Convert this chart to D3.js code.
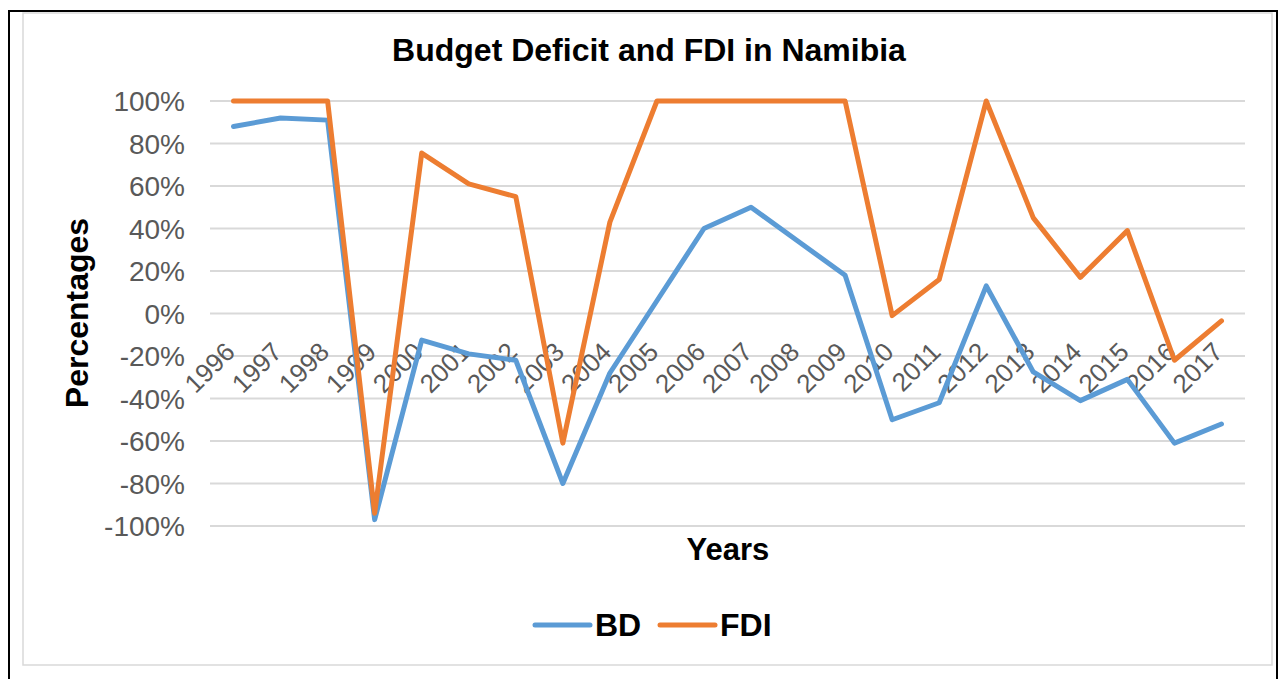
<!DOCTYPE html>
<html>
<head>
<meta charset="utf-8">
<script src="https://cdn.jsdelivr.net/npm/d3@7/dist/d3.min.js"></script>
<style>
  html, body { margin: 0; padding: 0; background: #fff; }
  svg { display: block; font-family: 'Liberation Sans', Arial, sans-serif; }
</style>
</head>
<body>
<div id="chart"></div>
<script>
// data
const years = ['1996', '1997', '1998', '1999', '2000', '2001', '2002', '2003', '2004', '2005', '2006',
  '2007', '2008', '2009', '2010', '2011', '2012', '2013', '2014', '2015', '2016', '2017']
const bd = [88, 92, 91, -97, -12.5, -19, -22, -80, -28, 6, 40,
  50, 34, 18, -50, -42, 13, -27.5, -41, -31, -61, -52]
const fdi = [100, 100, 100, -94, 75.5, 61, 55, -61, 43, 100, 100,
  100, 100, 100, -1, 16, 100, 45, 17, 39, -22, -3.5]
const yTicks = [100, 80, 60, 40, 20, 0, -20, -40, -60, -80, -100]

const seriesList = [
  {name: 'BD', values: bd, color: '#5B9BD5'},
  {name: 'FDI', values: fdi, color: '#ED7D31'}
]

const width = 1281
const height = 679
const tickColor = '#595959'
const gridColor = '#D9D9D9'

const svg = d3.select('#chart').append('svg')
  .attr('width', width)
  .attr('height', height)

// outer black frame and the grey chart border
svg.append('rect')
  .attr('x', 9).attr('y', 11)
  .attr('width', 1268).attr('height', 700)
  .attr('fill', 'none')
  .attr('stroke', '#000')
  .attr('stroke-width', 2)
svg.append('rect')
  .attr('x', 23).attr('y', 13)
  .attr('width', 1249).attr('height', 652)
  .attr('fill', '#fff')
  .attr('stroke', '#D9D9D9')
  .attr('stroke-width', 1.5)

const x = d3.scalePoint()
  .domain(years)
  .range([210, 1245])
  .padding(0.5)

const y = d3.scaleLinear()
  .domain([-100, 100])
  .range([526, 101])

// gridlines
svg.selectAll('.grid')
  .data(yTicks)
  .enter()
  .append('line')
  .attr('class', 'grid')
  .attr('x1', 210)
  .attr('x2', 1245)
  .attr('y1', d => y(d))
  .attr('y2', d => y(d))
  .attr('stroke', gridColor)
  .attr('stroke-width', 2)

// y tick labels
svg.selectAll('.ylabel')
  .data(yTicks)
  .enter()
  .append('text')
  .attr('class', 'ylabel')
  .attr('x', 185)
  .attr('y', d => y(d))
  .attr('dy', '0.36em')
  .attr('text-anchor', 'end')
  .attr('fill', tickColor)
  .style('font-size', '28px')
  .text(d => d + '%')

// x tick labels, rotated, hanging off the zero line
svg.selectAll('.xlabel')
  .data(years)
  .enter()
  .append('text')
  .attr('class', 'xlabel')
  .attr('transform', d => `translate(${x(d) + 3},${y(0) + 40}) rotate(-45)`)
  .attr('text-anchor', 'end')
  .attr('fill', tickColor)
  .style('font-size', '26px')
  .text(d => d)

// lines
const line = d3.line()
  .x((d, i) => x(years[i]))
  .y(d => y(d))

svg.selectAll('.series')
  .data(seriesList)
  .enter()
  .append('path')
  .attr('class', 'series')
  .attr('d', d => line(d.values))
  .attr('fill', 'none')
  .attr('stroke', d => d.color)
  .attr('stroke-width', 5)
  .attr('stroke-linejoin', 'round')
  .attr('stroke-linecap', 'round')

// titles
svg.append('text')
  .attr('x', 649)
  .attr('y', 61)
  .attr('text-anchor', 'middle')
  .style('font-size', '32px')
  .style('font-weight', 'bold')
  .text('Budget Deficit and FDI in Namibia')

svg.append('text')
  .attr('x', 728)
  .attr('y', 560)
  .attr('text-anchor', 'middle')
  .style('font-size', '31px')
  .style('font-weight', 'bold')
  .text('Years')

svg.append('text')
  .attr('transform', 'translate(88,313) rotate(-90)')
  .attr('text-anchor', 'middle')
  .style('font-size', '32px')
  .style('font-weight', 'bold')
  .text('Percentages')

// legend
const legendX = [535, 660]
const legend = svg.selectAll('.legend')
  .data(seriesList)
  .enter()
  .append('g')
  .attr('class', 'legend')
  .attr('transform', (d, i) => `translate(${legendX[i]},625)`)

legend.append('line')
  .attr('x1', 0)
  .attr('x2', 55)
  .attr('stroke', d => d.color)
  .attr('stroke-width', 5)
  .attr('stroke-linecap', 'round')

legend.append('text')
  .attr('x', 60)
  .attr('y', 11)
  .style('font-size', '32px')
  .style('font-weight', 'bold')
  .text(d => d.name)
</script>
</body>
</html>
